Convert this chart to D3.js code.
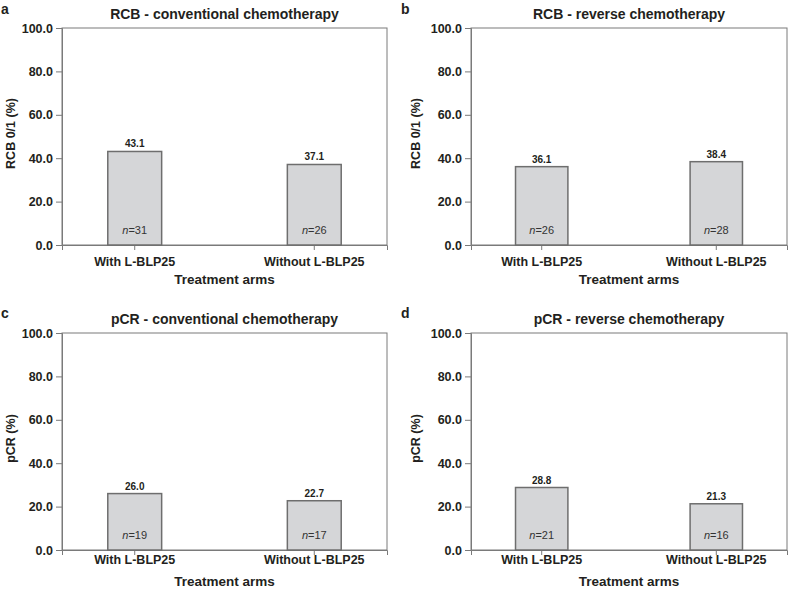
<!DOCTYPE html>
<html><head><meta charset="utf-8">
<script src="https://cdn.jsdelivr.net/npm/d3@7"></script>
<style>
body{margin:0;background:#fff;}
svg{display:block;font-family:"Liberation Sans",Arial,Helvetica,sans-serif;}
</style></head>
<body>
<svg id="chart" width="794" height="589"></svg>
<script>
const categories = ["With L-BLP25", "Without L-BLP25"];
const panelLetters = ["a", "b", "c", "d"];
const panelTitles = ["RCB - conventional chemotherapy", "RCB - reverse chemotherapy",
                     "pCR - conventional chemotherapy", "pCR - reverse chemotherapy"];
const yLabels = ["RCB 0/1 (%)", "RCB 0/1 (%)", "pCR (%)", "pCR (%)"];
const valuesA = [43.1, 37.1];
const valuesB = [36.1, 38.4];
const valuesC = [26.0, 22.7];
const valuesD = [28.8, 21.3];
const nA = [31, 26];
const nB = [26, 28];
const nC = [19, 17];
const nD = [21, 16];
const yTicks = [0, 20, 40, 60, 80, 100];
const xTitle = "Treatment arms";

const panels = [
  {letter: panelLetters[0], title: panelTitles[0], ylab: yLabels[0], vals: valuesA, ns: nA},
  {letter: panelLetters[1], title: panelTitles[1], ylab: yLabels[1], vals: valuesB, ns: nB},
  {letter: panelLetters[2], title: panelTitles[2], ylab: yLabels[2], vals: valuesC, ns: nC},
  {letter: panelLetters[3], title: panelTitles[3], ylab: yLabels[3], vals: valuesD, ns: nD}
];

// layout
const cols = [{x0: 62, x1: 387, letterX: 1, ylabX: 15}, {x0: 471, x1: 787, letterX: 401, ylabX: 420}];
const rows = [{y0: 28, y1: 245, letterY: 14, tickLabDy: 21, titleDy: 39},
              {y0: 333, y1: 550, letterY: 318, tickLabDy: 14, titleDy: 36}];

const svg = d3.select("#chart");
const txt = "#231f20";

panels.forEach((p, i) => {
  const c = cols[i % 2], r = rows[Math.floor(i / 2)];
  const g = svg.append("g");
  const x = d3.scaleBand().domain(categories).range([c.x0, c.x1]).paddingInner(0.70).paddingOuter(0.255);
  const y = d3.scaleLinear().domain([0, 100]).range([r.y1, r.y0]);

  // frame
  g.append("rect").attr("x", c.x0).attr("y", r.y0).attr("width", c.x1 - c.x0).attr("height", r.y1 - r.y0)
    .attr("fill", "none").attr("stroke", "#7a7a7a").attr("stroke-width", 1);

  // y axis
  const ya = g.append("g").attr("transform", `translate(${c.x0},0)`)
    .call(d3.axisLeft(y).tickValues(yTicks).tickFormat(d3.format(".1f")).tickSize(6).tickPadding(3));
  ya.attr("font-family", null).attr("font-size", null);
  ya.select(".domain").attr("stroke", "#7a7a7a");
  ya.selectAll(".tick line").attr("stroke", "#7a7a7a");
  ya.selectAll(".tick text").attr("fill", txt).attr("font-size", 12.5).attr("font-weight", "bold");

  // x axis
  const xa = g.append("g").attr("transform", `translate(0,${r.y1})`)
    .call(d3.axisBottom(x).tickSize(5).tickFormat(() => ""));
  xa.select(".domain").attr("stroke", "#7a7a7a");
  xa.selectAll(".tick line").attr("stroke", "#7a7a7a");
  g.selectAll(".xlab").data(categories).enter().append("text")
    .attr("x", d => x(d) + x.bandwidth() / 2).attr("y", r.y1 + r.tickLabDy)
    .attr("text-anchor", "middle").attr("font-size", 12.5).attr("font-weight", "bold").attr("fill", txt)
    .text(d => d);

  // bars
  g.selectAll(".bar").data(p.vals).enter().append("rect")
    .attr("x", (d, j) => x(categories[j])).attr("width", x.bandwidth())
    .attr("y", d => y(d)).attr("height", d => y(0) - y(d))
    .attr("fill", "#d5d6d8").attr("stroke", "#6e6e6e").attr("stroke-width", 1.5);

  // value labels
  g.selectAll(".vl").data(p.vals).enter().append("text")
    .attr("x", (d, j) => x(categories[j]) + x.bandwidth() / 2).attr("y", d => y(d) - 4)
    .attr("text-anchor", "middle").attr("font-size", 10).attr("font-weight", "bold").attr("fill", txt)
    .text(d => d3.format(".1f")(d));

  // n labels
  const nl = g.selectAll(".nl").data(p.ns).enter().append("text")
    .attr("x", (d, j) => x(categories[j]) + x.bandwidth() / 2).attr("y", r.y1 - 11)
    .attr("text-anchor", "middle").attr("font-size", 11).attr("fill", "#333");
  nl.append("tspan").attr("font-style", "italic").text("n");
  nl.append("tspan").text(d => "=" + d);

  // title
  g.append("text").attr("x", (c.x0 + c.x1) / 2).attr("y", r.y0 - 9.5)
    .attr("text-anchor", "middle").attr("font-size", 14).attr("font-weight", "bold").attr("fill", txt)
    .text(p.title);

  // panel letter
  g.append("text").attr("x", c.letterX).attr("y", r.letterY)
    .attr("font-size", 14).attr("font-weight", "bold").attr("fill", txt).text(p.letter);

  // y label
  g.append("text").attr("transform", `translate(${c.ylabX},${(r.y0 + r.y1) / 2 - 3}) rotate(-90)`)
    .attr("text-anchor", "middle").attr("font-size", 12.5).attr("font-weight", "bold").attr("fill", txt)
    .text(p.ylab);

  // x title
  g.append("text").attr("x", (c.x0 + c.x1) / 2).attr("y", r.y1 + r.titleDy)
    .attr("text-anchor", "middle").attr("font-size", 13.5).attr("font-weight", "bold").attr("fill", txt)
    .text(xTitle);
});
</script>
</body></html>
